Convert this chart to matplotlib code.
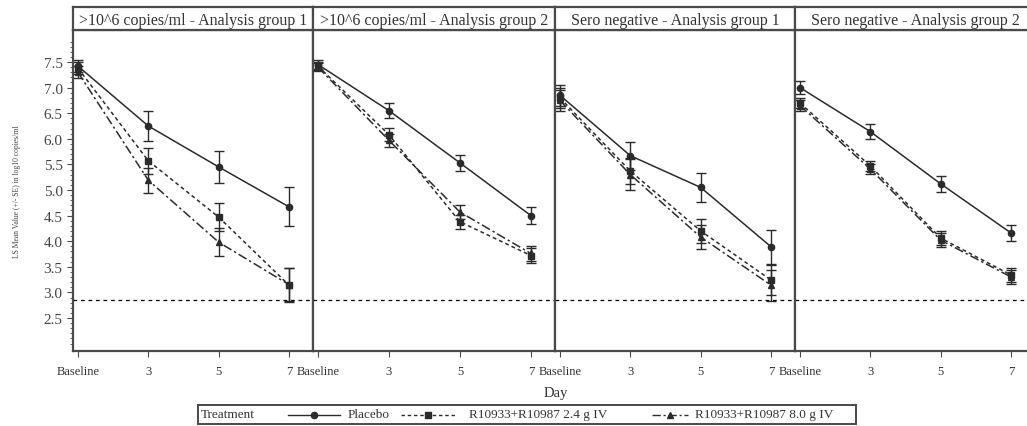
import numpy as np
import matplotlib
matplotlib.use('Agg')
import matplotlib.pyplot as plt
from matplotlib.lines import Line2D

plt.rcParams['font.family'] = ['Liberation Serif', 'DejaVu Serif']

# ── 1. Data ───────────────────────────────────────────────────────────────────
days   = ['Baseline', '3', '5', '7']
panels = ['>10^6 copies/ml - Analysis group 1',
          '>10^6 copies/ml - Analysis group 2',
          'Sero negative - Analysis group 1',
          'Sero negative - Analysis group 2']

placebo_mean = [[7.42, 6.25, 5.45, 4.67],
                [7.45, 6.55, 5.53, 4.50],
                [6.85, 5.67, 5.05, 3.89],
                [7.00, 6.14, 5.12, 4.16]]
placebo_se   = [[0.12, 0.30, 0.32, 0.38],
                [0.08, 0.15, 0.16, 0.17],
                [0.20, 0.27, 0.28, 0.33],
                [0.13, 0.14, 0.15, 0.15]]

low_mean  = [[7.38, 5.57, 4.47, 3.14],
             [7.42, 6.08, 4.38, 3.72],
             [6.80, 5.37, 4.20, 3.24],
             [6.70, 5.47, 4.06, 3.34]]
low_se    = [[0.12, 0.25, 0.28, 0.33],
             [0.08, 0.13, 0.14, 0.14],
             [0.20, 0.25, 0.24, 0.30],
             [0.10, 0.10, 0.14, 0.14]]

high_mean = [[7.30, 5.19, 3.98, 3.15],
             [7.40, 5.97, 4.57, 3.76],
             [6.75, 5.30, 4.08, 3.14],
             [6.65, 5.41, 4.02, 3.30]]
high_se   = [[0.12, 0.24, 0.27, 0.32],
             [0.08, 0.13, 0.14, 0.14],
             [0.20, 0.30, 0.23, 0.30],
             [0.10, 0.10, 0.14, 0.14]]

lloq = 2.85

treatments = ['Placebo', 'R10933+R10987 2.4 g IV', 'R10933+R10987 8.0 g IV']
markers    = ['o', 's', '^']
styles     = ['-', (0, (2.5, 2)), (0, (6, 2, 1.5, 2))]
series     = [(placebo_mean, placebo_se), (low_mean, low_se), (high_mean, high_se)]

# ── 2. Layout (pixel geometry of the reference) ───────────────────────────────
W, H     = 1027, 427
fig      = plt.figure(figsize=(W / 100, H / 100), dpi=100)
edges    = [73, 313, 555, 795, 1035]
top, bot = 31, 352
hdr_top  = 8
line_c   = '#2b2b2b'
frame_c  = '#4a4a4a'
text_c   = '#333333'

x = np.arange(len(days))

for i, name in enumerate(panels):
    x0, x1 = edges[i], edges[i + 1]
    ax = fig.add_axes([x0 / W, 1 - bot / H, (x1 - x0) / W, (bot - top) / H])

    for (mean, se), mk, ls in zip(series, markers, styles):
        ax.errorbar(x, mean[i], yerr=se[i], color=line_c, linestyle=ls,
                    linewidth=1.1, marker=mk, markersize=4.5, capsize=3.5,
                    elinewidth=1.0, capthick=1.0)

    ax.axhline(lloq, color='black', linestyle=(0, (3, 3)), linewidth=0.9)

    ax.set_xlim(-0.07, 3.34)
    ax.set_ylim(1.855, 8.125)
    ax.set_xticks(x)
    ax.set_xticklabels(days, fontsize=9, color=text_c)
    ax.tick_params(axis='x', length=4, width=0.8, color=frame_c, pad=6)

    if i == 0:
        ax.set_yticks(np.arange(2.5, 7.51, 0.5))
        ax.set_yticklabels([f'{v:.1f}' for v in np.arange(2.5, 7.51, 0.5)],
                           fontsize=11, color='#444444')
        ax.set_yticks(np.arange(2.0, 7.91, 0.1), minor=True)
        ax.tick_params(axis='y', which='major', length=4, width=0.8, color=frame_c)
        ax.tick_params(axis='y', which='minor', length=2, width=0.6, color=frame_c)
        ax.set_ylabel('LS Mean Value (+/- SE) in log10 copies/ml',
                      fontsize=5.5, color='#444444', labelpad=16)
    else:
        ax.set_yticks([])

    for s in ax.spines.values():
        s.set_color(frame_c)
        s.set_linewidth(1.6)

    # — header strip —
    hx = fig.add_axes([x0 / W, 1 - top / H, (x1 - x0) / W, (top - hdr_top) / H])
    hx.set_xticks([])
    hx.set_yticks([])
    for s in hx.spines.values():
        s.set_color(frame_c)
        s.set_linewidth(1.6)
    hx.text(0.5, 0.45, name, ha='center', va='center', fontsize=11.5,
            color=text_c, transform=hx.transAxes)

fig.text(556 / W, 1 - 394 / H, 'Day', ha='center', va='center',
         fontsize=10.5, color=text_c)

# ── 3. Legend box ─────────────────────────────────────────────────────────────
lx0, lx1, ly0, ly1 = 198, 856, 406, 425
lg = fig.add_axes([lx0 / W, 1 - ly1 / H, (lx1 - lx0) / W, (ly1 - ly0) / H])
lg.set_xlim(lx0, lx1)
lg.set_ylim(0, 1)
lg.set_xticks([])
lg.set_yticks([])
for s in lg.spines.values():
    s.set_color(frame_c)
    s.set_linewidth(1.4)

lg.text(201, 0.5, 'Treatment', ha='left', va='center', fontsize=9.5, color=text_c)
handle_x = [(288, 340), (401, 455), (652, 688)]
text_x   = [348, 469, 695]
for (h0, h1), tx, lab, mk, ls in zip(handle_x, text_x, treatments, markers, styles):
    lg.add_line(Line2D([h0, h1], [0.5, 0.5], color=line_c, linestyle=ls, linewidth=1.0))
    lg.add_line(Line2D([(h0 + h1) / 2], [0.5], color=line_c, marker=mk, markersize=4.5))
    lg.text(tx, 0.5, lab, ha='left', va='center', fontsize=9.5, color=text_c)

plt.savefig('out.png', dpi=100)
